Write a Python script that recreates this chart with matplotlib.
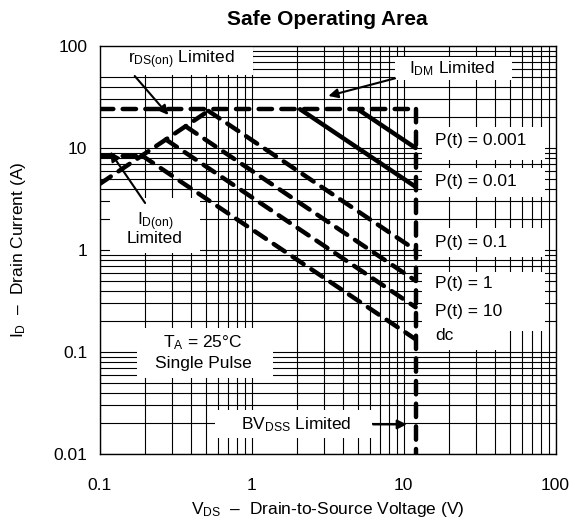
import numpy as np
import matplotlib
matplotlib.use("Agg")
import matplotlib.pyplot as plt
from matplotlib.patches import Rectangle
from matplotlib.ticker import FuncFormatter, LogLocator, NullFormatter

plt.rcParams["font.family"] = ["Liberation Sans", "DejaVu Sans"]
plt.rcParams["mathtext.fontset"] = "custom"
plt.rcParams["mathtext.rm"] = "Liberation Sans"
plt.rcParams["mathtext.default"] = "regular"

# limits of the device
v_min = 0.1        # V, left edge of the plot
i_min = 0.01       # A, bottom edge
i_dm = 24.0        # A, pulsed drain current limit
i_d_on = 8.3       # A, continuous drain current limit
r_ds_on = 0.0225   # ohm, on-resistance line
bv_dss = 12.0      # V, breakdown voltage

# power limit per pulse width (W)
pulse_labels = ["P(t) = 0.001", "P(t) = 0.01", "P(t) = 0.1", "P(t) = 1", "P(t) = 10", "dc"]
pulse_power = [120.0, 50.0, 12.0, 6.0, 3.3, 1.6]
pulse_solid = [True, True, False, False, False, False]

x_ticks = [0.1, 1, 10, 100]
y_ticks = [0.01, 0.1, 1, 10, 100]

fig = plt.figure(figsize=(5.75, 5.27), dpi=100)
ax = fig.add_axes([0.1734, 0.1385, 0.7927, 0.7742])
ax.set_xscale("log")
ax.set_yscale("log")
ax.set_xlim(x_ticks[0], x_ticks[-1])
ax.set_ylim(y_ticks[0], y_ticks[-1])

ax.xaxis.set_major_locator(LogLocator(base=10, numticks=10))
ax.yaxis.set_major_locator(LogLocator(base=10, numticks=10))
ax.xaxis.set_minor_locator(LogLocator(base=10, subs=np.arange(2, 10), numticks=20))
ax.yaxis.set_minor_locator(LogLocator(base=10, subs=np.arange(2, 10), numticks=20))
fmt = FuncFormatter(lambda v, p: "%g" % v)
ax.xaxis.set_major_formatter(fmt)
ax.yaxis.set_major_formatter(fmt)
ax.xaxis.set_minor_formatter(NullFormatter())
ax.yaxis.set_minor_formatter(NullFormatter())
ax.tick_params(which="both", length=0, labelsize=12.5)
ax.tick_params(axis="x", pad=17)
ax.tick_params(axis="y", pad=9)

ax.set_axisbelow(True)
ax.grid(which="both", color="black", lw=0.8)
for s in ax.spines.values():
    s.set_linewidth(1.0)

dash = dict(color="black", lw=3.2, linestyle=(0, (3.0, 2.1)), dash_capstyle="round",
            solid_capstyle="round", zorder=3)

# I_DM, r_DS(on), I_D(on) and BV_DSS boundaries
ax.plot([v_min, bv_dss], [i_dm, i_dm], **dash)
v_knee = i_dm * r_ds_on
ax.plot([v_min, v_knee], [v_min / r_ds_on, i_dm], **dash)
v_on = i_d_on * r_ds_on
ax.plot([v_min, v_on], [i_d_on, i_d_on], **dash)
ax.plot([bv_dss, bv_dss], [i_dm, i_min], **dash)

# constant power lines from the envelope to BV_DSS
for p, solid in zip(pulse_power, pulse_solid):
    v0 = np.sqrt(p * r_ds_on)
    if p / v0 > i_dm:
        v0 = p / i_dm
    v = np.array([v0, bv_dss])
    kw = dict(dash)
    if solid:
        kw["linestyle"] = "-"
    ax.plot(v, p / v, **kw)

# white label boxes over the grid (V0, V1, I0, I1)
boxes = [
    (0.1, 1.02, 52.0, 100.0),
    (8.79, 51.6, 46.4, 78.5),
    (0.117, 0.457, 0.935, 3.24),
    (0.175, 1.383, 0.0556, 0.172),
    (0.574, 6.18, 0.01436, 0.027),
    (13.2, 85.5, 7.63, 16.1),
    (13.2, 85.5, 3.33, 6.37),
    (13.2, 85.5, 0.859, 1.64),
    (13.2, 85.5, 0.16, 0.612),
    (13.2, 45.2, 0.1047, 0.16),
]
for v0, v1, i0, i1 in boxes:
    ax.add_patch(Rectangle((v0, i0), v1 - v0, i1 - i0, facecolor="white",
                           edgecolor="none", zorder=1))

fs = 12.5
ax.text(0.343, 72.9, r"r$_{DS(on)}$ Limited", fontsize=fs, ha="center", va="center", zorder=4)
ax.text(21.0, 60.4, r"I$_{DM}$ Limited", fontsize=fs, ha="center", va="center", zorder=4)
ax.text(0.231, 1.9, r"I$_{D(on)}$", fontsize=fs, ha="center", va="center", zorder=4)
ax.text(0.231, 1.30, "Limited", fontsize=fs, ha="center", va="center", zorder=4)
ax.text(0.479, 0.1225, r"T$_{A}$ = 25$\degree$C", fontsize=fs, ha="center", va="center", zorder=4)
ax.text(0.479, 0.078, "Single Pulse", fontsize=fs, ha="center", va="center", zorder=4)
ax.text(1.96, 0.0195, r"BV$_{DSS}$ Limited", fontsize=fs, ha="center", va="center", zorder=4)

label_y = [11.8, 4.67, 1.18, 0.472, 0.248, 0.1436]
for lab, yy in zip(pulse_labels, label_y):
    ax.text(16.1, yy, lab, fontsize=fs, ha="left", va="center", zorder=4)

arrow = dict(arrowstyle="-|>", color="black", lw=1.5, mutation_scale=14,
             shrinkA=0, shrinkB=0)
ax.annotate("", xy=(0.283, 21.1), xytext=(0.170, 50.8), arrowprops=arrow, zorder=4)
ax.annotate("", xy=(3.20, 32.4), xytext=(8.79, 48.2), arrowprops=arrow, zorder=4)
ax.annotate("", xy=(0.117, 9.2), xytext=(0.199, 2.89), arrowprops=arrow, zorder=4)
ax.annotate("", xy=(10.5, 0.0195), xytext=(6.30, 0.0195), arrowprops=arrow, zorder=4)

ax.set_title("Safe Operating Area", fontsize=15, fontweight="bold", pad=15)
ax.set_xlabel("V$_{DS}$  \u2013  Drain-to-Source Voltage (V)", fontsize=12.5, labelpad=5)
ax.set_ylabel("I$_{D}$  \u2013  Drain Current (A)", fontsize=12.5, labelpad=18)

fig.savefig("out.png", dpi=100)
